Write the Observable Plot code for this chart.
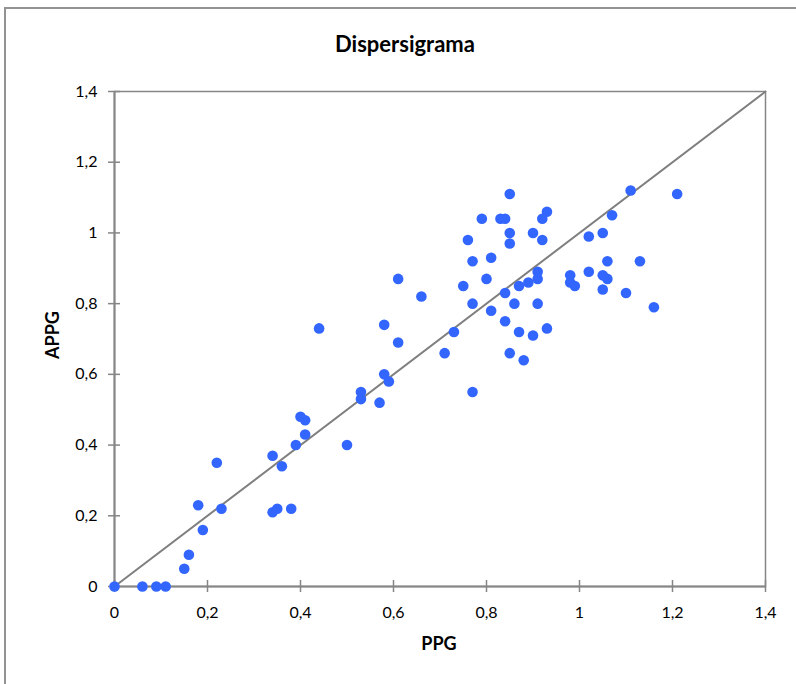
<!DOCTYPE html>
<html>
<head>
<meta charset="utf-8">
<script src="https://cdn.jsdelivr.net/npm/d3@7"></script>
<script src="https://cdn.jsdelivr.net/npm/@observablehq/plot@0.6"></script>
<style>
  html, body { margin: 0; padding: 0; background: #fff; }
  #wrap { position: relative; width: 796px; height: 684px; overflow: hidden; font-family: Lato, "Open Sans", sans-serif; }
  #border { position: absolute; left: 4px; top: 7px; width: 900px; height: 900px; border: 2px solid #939393; box-sizing: border-box; }
  #chart { position: absolute; left: 0; top: 0; }
  .lbl { position: absolute; font-weight: bold; color: #000; white-space: nowrap; line-height: 1; }
  #title { left: 0; width: 810px; top: 33px; text-align: center; font-size: 22px; }
  #xlabel { left: 0; width: 878px; top: 634px; text-align: center; font-size: 18px; }
  #ylabel { left: 52px; top: 335px; font-size: 18px; transform: translate(-50%, -50%) rotate(-90deg); }
</style>
</head>
<body>
<div id="wrap">
  <div id="border"></div>
  <div id="chart"></div>
  <div class="lbl" id="title">Dispersigrama</div>
  <div class="lbl" id="xlabel">PPG</div>
  <div class="lbl" id="ylabel">APPG</div>
</div>
<script>
const ppg  = [0,0.06,0.09,0.11,0.15,0.16,0.19,0.18,0.23,0.22,0.34,0.35,0.38,0.34,0.36,0.39,0.41,0.40,0.41,0.50,
              0.53,0.53,0.57,0.58,0.59,0.58,0.61,0.61,0.66,0.44,0.71,0.73,0.77,0.77,0.81,0.75,0.77,0.80,0.81,0.84,
              0.86,0.84,0.87,0.89,0.87,0.90,0.85,0.88,0.91,0.91,0.91,0.93,0.85,0.79,0.83,0.84,0.76,0.85,0.85,0.90,
              0.93,0.92,0.92,1.02,1.05,1.07,1.06,0.98,0.98,0.99,1.02,1.05,1.06,1.05,1.11,1.21,1.13,1.10,1.16];
const appg = [0,0,0,0,0.05,0.09,0.16,0.23,0.22,0.35,0.21,0.22,0.22,0.37,0.34,0.40,0.43,0.48,0.47,0.40,
              0.55,0.53,0.52,0.60,0.58,0.74,0.69,0.87,0.82,0.73,0.66,0.72,0.55,0.92,0.93,0.85,0.80,0.87,0.78,0.83,
              0.80,0.75,0.85,0.86,0.72,0.71,0.66,0.64,0.89,0.87,0.80,0.73,1.11,1.04,1.04,1.04,0.98,1.00,0.97,1.00,
              1.06,1.04,0.98,0.99,1.00,1.05,0.92,0.88,0.86,0.85,0.89,0.88,0.87,0.84,1.12,1.11,0.92,0.83,0.79];
const tickValues = [0,0.2,0.4,0.6,0.8,1,1.2,1.4];
const diagonal = [[0,0],[1.4,1.4]];

const points = ppg.map((x, i) => ({x, y: appg[i]}));
const fmt = d => String(+d.toFixed(1)).replace(".", ",");
const gray = "#868686";

const chart = Plot.plot({
  width: 796,
  height: 684,
  marginLeft: 114,
  marginRight: 31,
  marginTop: 91,
  marginBottom: 98,
  style: {fontFamily: 'Lato, "Open Sans", sans-serif', fontSize: "16px", color: "#000", background: "transparent", overflow: "visible"},
  x: {domain: [0, 1.4]},
  y: {domain: [0, 1.4]},
  marks: [
    Plot.frame({stroke: gray, strokeWidth: 1.5}),
    Plot.axisX({ticks: tickValues, tickSize: 12, dy: -6, tickFormat: () => "", label: null, stroke: gray, strokeWidth: 1.5}),
    Plot.axisX({ticks: tickValues, tickSize: 0, tickPadding: 20, tickFormat: fmt, label: null}),
    Plot.axisY({ticks: tickValues, tickSize: 12, dx: 6, tickFormat: () => "", label: null, stroke: gray, strokeWidth: 1.5}),
    Plot.axisY({ticks: tickValues, tickSize: 0, tickPadding: 17, tickFormat: fmt, label: null}),
    Plot.ruleY([0], {stroke: gray, strokeWidth: 2}),
    Plot.ruleX([0], {stroke: gray, strokeWidth: 2}),
    Plot.line(diagonal, {x: d => d[0], y: d => d[1], stroke: "#7f7f7f", strokeWidth: 2}),
    Plot.dot(points, {x: "x", y: "y", r: 5.3, fill: "#3366ff", stroke: "none"})
  ]
});
document.getElementById("chart").appendChild(chart);
</script>
</body>
</html>
